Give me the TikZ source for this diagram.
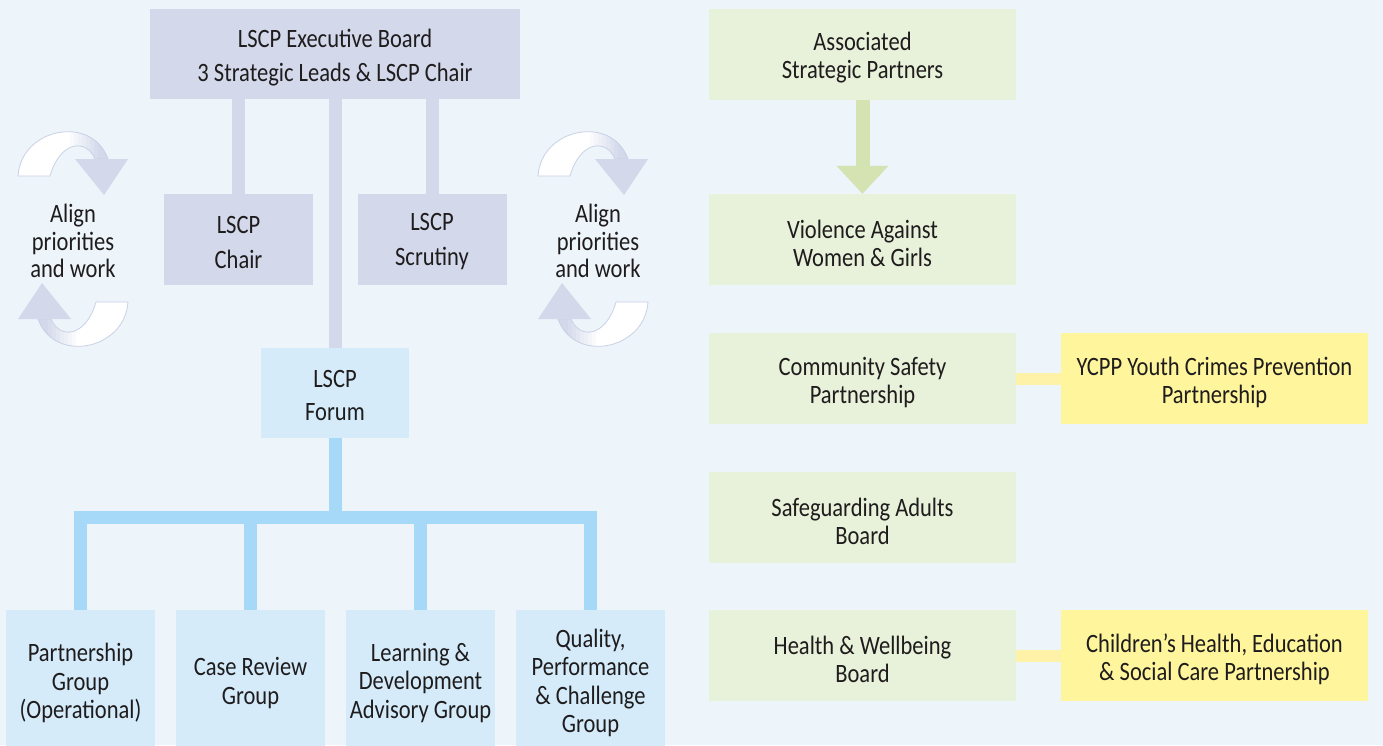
\documentclass[tikz,border=0pt]{standalone}
\usepackage{fontspec}
\setmainfont{Carlito}[FakeStretch=0.85]
\usetikzlibrary{arrows.meta,calc}
\definecolor{bg}{HTML}{EDF4FA}
\definecolor{lav}{HTML}{D3D8EA}
\definecolor{lavline}{HTML}{C9D1E6}
\definecolor{bluebox}{HTML}{D5EBFA}
\definecolor{blueconn}{HTML}{A6D9F7}
\definecolor{greenbox}{HTML}{E8F1D9}
\definecolor{greenarr}{HTML}{D4E3B1}
\definecolor{yelbox}{HTML}{FFF59C}
\definecolor{yelconn}{HTML}{FDF2A8}
\definecolor{txt}{HTML}{1E1C1D}
\tikzset{
  basebox/.style={inner sep=0pt},
  basetext/.style={inner sep=0pt, align=center, text=txt},
  lavbox/.style={basebox, fill=lav, minimum width=149, minimum height=91},
  lavboxtext/.style={basetext, yshift=-2.5pt, font=\fontsize{26.5}{35}\selectfont},
  execbox/.style={lavbox, minimum width=370, minimum height=90},
  execboxtext/.style={basetext, yshift=-3.5pt, font=\fontsize{26.5}{34}\selectfont},
  forumbox/.style={basebox, fill=bluebox, minimum width=148, minimum height=90},
  forumboxtext/.style={basetext, yshift=-2pt, font=\fontsize{26.5}{33}\selectfont},
  groupbox/.style={basebox, fill=bluebox, minimum width=149, minimum height=140},
  groupboxtext/.style={basetext, yshift=-3pt, font=\fontsize{26.5}{28.5}\selectfont},
  greenboxst/.style={basebox, fill=greenbox, minimum width=307, minimum height=91},
  greenboxsttext/.style={basetext, yshift=-4pt, font=\fontsize{26.5}{28}\selectfont},
  yelboxst/.style={basebox, fill=yelbox, minimum width=307, minimum height=91},
  yelboxsttext/.style={basetext, yshift=-4pt, font=\fontsize{26.5}{28}\selectfont},
  lavconn/.style={draw=lav, line width=13},
  bluelink/.style={draw=blueconn, line width=13, line join=miter},
  yellink/.style={draw=yelconn, line width=12},
  greenlink/.style={draw=greenarr, line width=14, -{Triangle[width=52pt,length=28pt,line width=0pt]}},
  alignlabel/.style={inner sep=0pt, align=center, text=txt, font=\fontsize{26.5}{27.5}\selectfont}
}
% box node (#2) of style #1 at #3, with its text in node (#2-t)
\newcommand\tbox[4]{%
  \node[#1] (#2) at (#3) {};
  \node[#1text] (#2-t) at (#2.center) {#4};}
\newcommand\alignarrow[2]{%
  \begin{scope}[shift={(#1,0)}, rotate around={#2:(73,239)}]
    \begin{scope}
      \clip (18,176) .. controls (21,128) and (92,114) .. (108,159) -- (95,159) .. controls (86,138) and (60,141) .. (50,176) -- cycle;
      \fill[white] (0,100) rectangle (140,200);
      \foreach \i [evaluate=\i as \p using \i*12.5] in {0,...,7}
        \fill[lav!\p!white] ({66+\i*4},100) rectangle ({70.5+\i*4},200);
      \fill[lav] (98,100) rectangle (140,200);
    \end{scope}
    \draw[lavline, line width=0.8] (18,176) .. controls (21,128) and (92,114) .. (108,159) -- (95,159) .. controls (86,138) and (60,141) .. (50,176) -- cycle;
    \fill[lav] (75,159) -- (128,159) -- (104,195) -- cycle;
  \end{scope}}
\begin{document}
\begin{tikzpicture}[x=1pt,y=-1pt]
\useasboundingbox (0,0) rectangle (1383,745);
\fill[bg] (0,0) rectangle (1383,745);

% left chart
\tbox{execbox}{exec}{335,54}{LSCP Executive Board\\3 Strategic Leads \& LSCP Chair}
\tbox{lavbox}{chair}{238.5,239.5}{LSCP\\Chair}
\tbox{lavbox}{scrut}{432,239.5}{LSCP\\Scrutiny}
\tbox{forumbox}{forum}{335,393}{LSCP\\Forum}

\tbox{groupbox}{g1}{80.5,680}{Partnership\\Group\\(Operational)}
\tbox{groupbox}{g2}{250.5,680}{Case Review\\Group}
\tbox{groupbox}{g3}{420.5,680}{Learning \&\\Development\\Advisory Group}
\tbox{groupbox}{g4}{590.5,680}{Quality,\\Performance\\\& Challenge\\Group}

\draw[lavconn] (exec.south -| chair.north) -- (chair.north);
\draw[lavconn] (exec.south -| scrut.north) -- (scrut.north);
\draw[lavconn] (exec.south) -- (forum.north);

\coordinate (bar) at (335,517.5);
\draw[bluelink] (forum.south) -- (bar);
\draw[bluelink] (g1.north) |- (bar) -| (g4.north);
\draw[bluelink] (g2.north) -- (g2.north |- bar);
\draw[bluelink] (g3.north) -- (g3.north |- bar);

% align arrows
\alignarrow{0}{0}
\alignarrow{0}{180}
\alignarrow{520}{0}
\alignarrow{520}{180}
\node[alignlabel] (al1) at (73,241) {Align\\priorities\\and work};
\node[alignlabel] (al2) at (598,241) {Align\\priorities\\and work};

% right chart
\tbox{greenboxst}{asp}{862.5,54}{Associated\\Strategic Partners}
\tbox{greenboxst}{vawg}{862.5,239.5}{Violence Against\\Women \& Girls}
\tbox{greenboxst}{csp}{862.5,378.5}{Community Safety\\Partnership}
\tbox{greenboxst}{sab}{862.5,517}{Safeguarding Adults\\Board}
\tbox{greenboxst}{hwb}{862.5,655.5}{Health \& Wellbeing\\Board}
\tbox{yelboxst}{ycpp}{1214.5,378.5}{YCPP Youth Crimes Prevention\\Partnership}
\tbox{yelboxst}{chesc}{1214.5,655.5}{Children’s Health, Education\\\& Social Care Partnership}

\draw[greenlink] (asp.south) -- (vawg.north);
\draw[yellink] (csp.east) -- (ycpp.west);
\draw[yellink] (hwb.east) -- (chesc.west);
\end{tikzpicture}
\end{document}
